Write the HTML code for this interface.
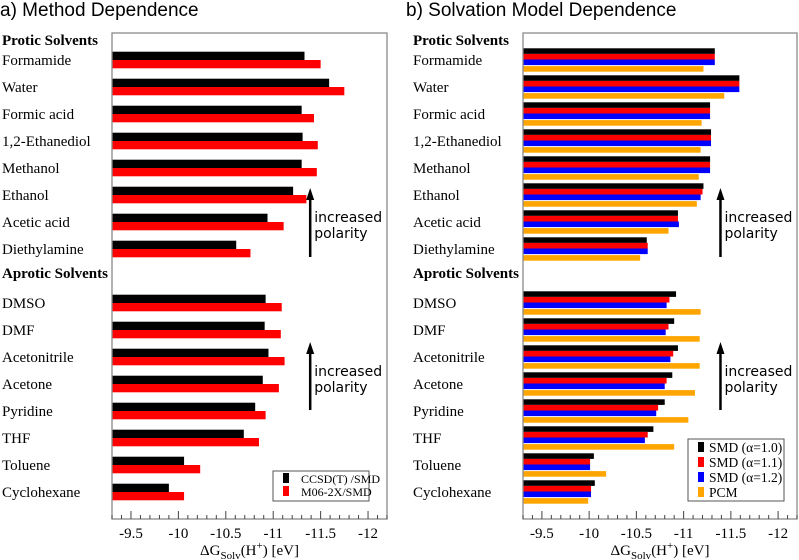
<!DOCTYPE html>
<html><head><meta charset="utf-8"><style>
body{margin:0;background:#fff;}
svg{display:block;}
.t{font-family:"Liberation Sans",sans-serif;font-size:19px;}
.s{font-family:"Liberation Serif",serif;font-size:15px;}
.b{font-family:"Liberation Serif",serif;font-size:15px;font-weight:bold;}
.k{font-family:"Liberation Serif",serif;font-size:15px;}
.a{font-family:"DejaVu Sans",sans-serif;font-size:14px;}
.l{font-family:"Liberation Serif",serif;}
</style></head><body>
<svg id="c" width="799" height="560" xmlns="http://www.w3.org/2000/svg">
<text class="t" x="0" y="16">a) Method Dependence</text>
<text class="t" x="406" y="16">b) Solvation Model Dependence</text>
</svg>
<script>
const protic=["Formamide","Water","Formic acid","1,2-Ethanediol","Methanol","Ethanol","Acetic acid","Diethylamine"];
const aprotic=["DMSO","DMF","Acetonitrile","Acetone","Pyridine","THF","Toluene","Cyclohexane"];
const categories=protic.concat(aprotic);
const ccsd=[-11.33,-11.59,-11.30,-11.31,-11.30,-11.21,-10.94,-10.61,-10.92,-10.91,-10.95,-10.89,-10.81,-10.69,-10.06,-9.90];
const m06=[-11.50,-11.75,-11.43,-11.47,-11.46,-11.35,-11.11,-10.76,-11.09,-11.08,-11.12,-11.06,-10.92,-10.85,-10.23,-10.06];
const smd10=[-11.33,-11.59,-11.28,-11.29,-11.28,-11.21,-10.94,-10.61,-10.92,-10.90,-10.94,-10.88,-10.80,-10.68,-10.05,-10.06];
const smd11=[-11.33,-11.59,-11.28,-11.29,-11.28,-11.20,-10.94,-10.62,-10.85,-10.84,-10.89,-10.82,-10.73,-10.62,-10.01,-10.02];
const smd12=[-11.33,-11.59,-11.28,-11.29,-11.28,-11.18,-10.95,-10.62,-10.82,-10.81,-10.86,-10.80,-10.71,-10.59,-10.01,-10.02];
const pcm=[-11.21,-11.43,-11.19,-11.18,-11.16,-11.14,-10.84,-10.54,-11.18,-11.17,-11.17,-11.12,-11.05,-10.90,-10.18,-9.99];
const tickLabels=["-9.5","-10","-10.5","-11","-11.5","-12"];
const tickValues=[-9.5,-10,-10.5,-11,-11.5,-12];
const XMIN=-9.3,XMAX=-12.2;
const svg=document.getElementById('c');
const NS="http://www.w3.org/2000/svg";
function mk(tag,attrs,parent){const e=document.createElementNS(NS,tag);for(const k in attrs)e.setAttribute(k,attrs[k]);(parent||svg).appendChild(e);return e;}
function rowY(i){return 60+27*(i<8?i:i+1);}
function panel(L,R,series,colors,barH,gap,labX,legend,pname){
  const T=33,B=519;
  const sx=v=>L+(v-XMIN)/(XMAX-XMIN)*(R-L);
  const g=mk('g',{});
  
  
  const h1=mk('text',{x:labX,y:45,class:'b'},g);h1.textContent="Protic Solvents";
  
  const h2=mk('text',{x:labX,y:278,class:'b'},g);h2.textContent="Aprotic Solvents";
  
  categories.forEach((c,i)=>{
    const y=rowY(i);
    const t=mk('text',{x:labX,y:y+5,class:'s'},g);t.textContent=c;
    
    
    const n=series.length;const tot=n*barH+(gap?1:0);
    let y0=y-tot/2;
    series.forEach((s,j)=>{
      if(j===n-1&&gap)y0+=1;
      const r=mk('rect',{x:L,y:y0,width:sx(s[i])-L,height:barH,fill:colors[j]},g);
      
      
      y0+=barH;
    });
  });
  const box=mk('rect',{x:L,y:T,width:R-L,height:B-T,fill:'none',stroke:'#8a8a8a','stroke-width':1.3},g);
  
  for(let k=-93;k>=-122;k--){const v=k/10;const x=sx(v);const maj=(k%5===0);
    mk('line',{x1:x,x2:x,y1:B,y2:B-(maj?8:4),stroke:'#444','stroke-width':1},g);}
  tickValues.forEach((v,i)=>{const t=mk('text',{x:sx(v),y:538,class:'k','text-anchor':'middle'},g);t.textContent=tickLabels[i];
    });
  const xt=mk('text',{x:(L+R)/2,y:555,class:'k','text-anchor':'middle'},g);
  xt.innerHTML='ΔG<tspan dy="4" font-size="11">Solv</tspan><tspan dy="-4">(H</tspan><tspan dy="-6" font-size="11">+</tspan><tspan dy="6">) [eV]</tspan>';
  
  [[257,188,218],[410,342,372]].forEach(a=>{
    const ax=sx(-11.39);
    mk('line',{x1:ax,x2:ax,y1:a[0],y2:a[1]+10,stroke:'#000','stroke-width':2.5},g);
    const p=mk('polygon',{points:`${ax-4},${a[1]+12} ${ax+4},${a[1]+12} ${ax},${a[1]}`,fill:'#000'},g);
    
    const t1=mk('text',{x:ax+4,y:a[2]+4,class:'a'},g);t1.textContent='increased';
    
    const t2=mk('text',{x:ax+4,y:a[2]+20,class:'a'},g);t2.textContent='polarity';
    
  });
  const lg=mk('g',{},g);
  
  mk('rect',{x:legend.x,y:legend.y,width:legend.w,height:legend.h,fill:'#fff',stroke:'#555','stroke-width':1},lg);
  legend.names.forEach((n,j)=>{const yy=legend.y+legend.y0+j*legend.dy;
    mk('rect',{x:legend.x+10,y:yy-6,width:6,height:10,fill:colors[j]},lg);
    const t=mk('text',{x:legend.x+legend.tx,y:yy+4,class:'l','font-size':legend.fs},lg);t.textContent=n;
    });
}
panel(112,387,[ccsd,m06],['#000','#ff0000'],8.3,false,2,{x:273,y:471,w:96,h:30,y0:8,dy:13,tx:28,fs:12,names:['CCSD(T) /SMD','M06-2X/SMD']},'panel-a');
panel(523,797,[smd10,smd11,smd12,pcm],['#000','#ff0000','#0000ff','#ffa500'],5.6,true,413,{x:688,y:439,w:96,h:62,y0:9,dy:15,tx:21,fs:13.5,names:['SMD (α=1.0)','SMD (α=1.1)','SMD (α=1.2)','PCM']},'panel-b');
</script>
</body></html>
